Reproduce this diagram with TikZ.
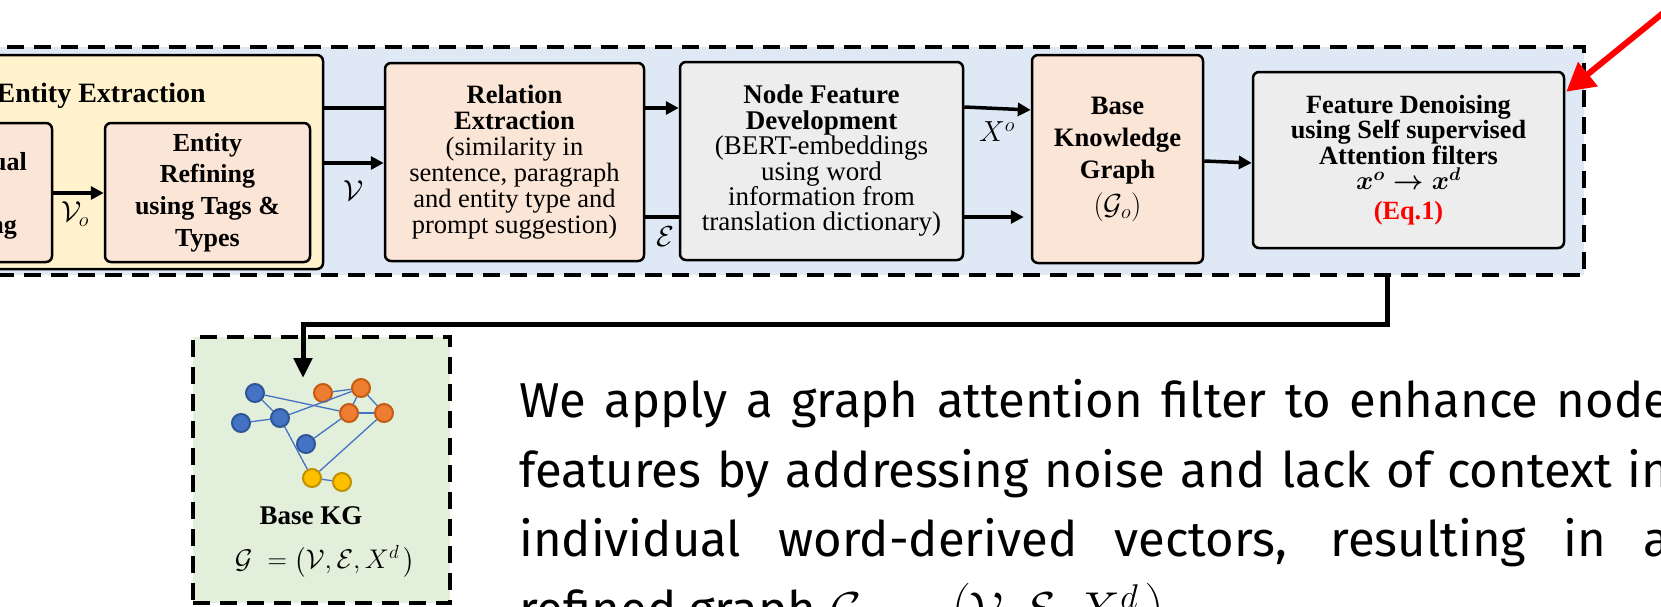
\RequirePackage{fix-cm}
\documentclass[tikz,border=0pt]{standalone}
\usepackage{fontspec}
\usepackage{amsmath}
\setmainfont{Liberation Serif}
\newfontfamily\parafont{Fira Sans}
\usetikzlibrary{arrows.meta}
\definecolor{bgblue}{HTML}{DEE9F5}
\definecolor{yel}{HTML}{FFF2CC}
\definecolor{peach}{HTML}{FBE5D6}
\definecolor{greybox}{HTML}{EDEDED}
\definecolor{greenbg}{HTML}{E2EFDA}
\definecolor{nblue}{HTML}{4472C4}
\definecolor{nblueb}{HTML}{2F5597}
\definecolor{norange}{HTML}{ED7D31}
\definecolor{norangeb}{HTML}{C55A11}
\definecolor{nyellow}{HTML}{FFC000}
\definecolor{nyellowb}{HTML}{BF9000}
\definecolor{redarrow}{HTML}{FF0000}
\begin{document}
\begin{tikzpicture}[x=1pt,y=-1pt,
  box/.style={draw=black, line width=2.5pt, rounded corners=6pt, inner sep=0pt, align=center},
  conn/.style={line width=3.5pt},
  arr/.style={conn, -{Triangle[length=13pt,width=13pt]}},
  dashbox/.style={draw=black, line width=4pt, dash pattern=on 17pt off 10pt, inner sep=0pt},
  lbl/.style={font=\fontsize{29}{32}\selectfont, inner sep=0pt},
  gedge/.style={draw=nblue, line width=1.3pt},
  gn/.style={circle, line width=2pt, minimum size=18pt, inner sep=0pt},
  bn/.style={gn, fill=nblue, draw=nblueb},
  on/.style={gn, fill=norange, draw=norangeb},
  yn/.style={gn, fill=nyellow, draw=nyellowb},
  para/.style={anchor=base west, inner sep=0pt, font=\parafont\fontsize{49}{69}\selectfont}
]
\useasboundingbox (0,0) rectangle (1661,606);
\clip (0,0) rectangle (1661,606);

% outer dashed region
\node[dashbox, fill=bgblue, minimum width=1614pt, minimum height=228pt] (outer) at (777,161) {};

% entity extraction
\node[box, fill=yel, minimum width=353pt, minimum height=214pt] (yel) at (146.5,162) {};
\node[anchor=base east, inner sep=0pt, font=\bfseries\fontsize{28}{30}\selectfont] (eetitle) at (206,102) {Entity Extraction};
\node[box, fill=peach, minimum width=82pt, minimum height=139pt] (cut) at (11,192.5) {};
\node[anchor=base east, inner sep=0pt, font=\bfseries\fontsize{26}{30}\selectfont] (cut1) at (27,170) {ual};
\node[anchor=base east, inner sep=0pt, font=\bfseries\fontsize{26}{30}\selectfont] (cut2) at (17,233) {ng};
\node[box, font=\bfseries\fontsize{26}{31.7}\selectfont, fill=peach, minimum width=205pt, minimum height=139pt] (ref) at (207.5,192.5)
  {Entity\\Refining\\using Tags \&\\Types};

% relation extraction
\node[box, font=\fontsize{26.5}{26}\selectfont, fill=peach, minimum width=259pt, minimum height=198pt] (rel) at (514.5,162)
  {\textbf{Relation}\\\textbf{Extraction}\\(similarity in\\sentence, paragraph\\and entity type and\\prompt suggestion)};

% node feature development
\node[box, font=\fontsize{27}{25.4}\selectfont, fill=greybox, minimum width=283pt, minimum height=198pt] (nf) at (821.5,161)
  {\textbf{Node Feature}\\\textbf{Development}\\(BERT-embeddings\\using word\\information from\\translation dictionary)};

% base knowledge graph
\node[box, font=\bfseries\fontsize{26.6}{32}\selectfont, fill=peach, minimum width=171pt, minimum height=208pt] (bkg) at (1117.5,159)
  {Base\\Knowledge\\Graph\\[4pt]{\mdseries\fontsize{29}{32}\selectfont$(\mathcal{G}_{o})$}};

% feature denoising
\node[box, font=\bfseries\fontsize{26.3}{25.5}\selectfont, fill=greybox, minimum width=311pt, minimum height=176pt] (den) at (1408.5,160)
  {Feature Denoising\\using Self supervised\\Attention filters\\$\boldsymbol{x^{o}\rightarrow x^{d}}$\\[4pt]\textcolor{red}{(Eq.1)}};

% connectors
\draw[arr] ([yshift=-0.5pt]cut.east) -- ([yshift=-0.5pt]ref.west);
\node[lbl] (lvo) at (75,214) {$\mathcal{V}_{o}$};
\draw[conn] ([yshift=54pt]yel.east) -- ([yshift=54pt]rel.west);
\draw[arr] ([yshift=-1pt]yel.east) -- ([yshift=-1pt]rel.west);
\node[lbl] (lv) at (354,191) {$\mathcal{V}$};
\draw[arr] ([yshift=54pt]rel.east) -- ([yshift=53pt]nf.west);
\draw[conn] ([yshift=-55pt]rel.east) -- ([yshift=-56pt]nf.west);
\node[lbl] (le) at (665,237) {$\mathcal{E}$};
\draw[arr] ([yshift=54pt]nf.east) -- ([yshift=49pt]bkg.west);
\draw[arr] ([yshift=-56pt]nf.east) -- ([yshift=-58pt,xshift=-7pt]bkg.west);
\node[lbl] (lx) at (997,132) {$X^{o}$};
\draw[arr] ([yshift=-2pt]bkg.east) -- ([yshift=-3pt]den.west);

% red arrow
\coordinate (redstart) at (1700,-17);
\draw[draw=redarrow, line width=6pt, -{Triangle[length=28pt,width=30pt]}] (redstart) -- ([yshift=-21pt,xshift=1pt]den.north east);

% base KG box
\node[dashbox, fill=greenbg, minimum width=257pt, minimum height=266pt] (kg) at (321.5,470) {};
\coordinate (kgin) at (303,378);
\draw[line width=5pt, -{Triangle[length=20pt,width=18pt]}] ([xshift=610pt]outer.south) -- ++(0,47) -| (kgin);

% graph
\node[bn] (b1) at (255,393) {};
\node[bn] (b2) at (241,423) {};
\node[bn] (b3) at (280,418) {};
\node[bn] (b4) at (306,444) {};
\node[on] (o1) at (323,393) {};
\node[on] (o2) at (361,388) {};
\node[on] (o3) at (349,413) {};
\node[on] (o4) at (384,413) {};
\node[yn] (y1) at (312,478) {};
\node[yn] (y2) at (342,482) {};
\draw[gedge] (b1) -- (b3);
\draw[gedge] (b1) -- (o3);
\draw[gedge] (b2) -- (b3);
\draw[gedge] (b3) -- (o2);
\draw[gedge] (b3) -- (y1);
\draw[gedge] (b4) -- (o3);
\draw[gedge] (o1) -- (o2);
\draw[gedge] (o2) -- (o3);
\draw[gedge] (o2) -- (o4);
\draw[gedge] (o3) -- (o4);
\draw[gedge] (o4) -- (y1);
\draw[gedge] (y1) -- (y2);

\node[inner sep=0pt, font=\bfseries\fontsize{27}{30}\selectfont] (kgt) at (311,516) {Base KG};
\node[inner sep=0pt, font=\fontsize{27}{30}\selectfont] (kgf) at (325,562) {$\mathcal{G}\;=\bigl(\mathcal{V},\mathcal{E},X^{d}\,\bigr)$};

% paragraph
\node[para] (p1) at (519,417) {\makebox[1151pt][s]{We apply a graph attention filter to enhance node}};
\node[para] (p2) at (519,487) {\makebox[1151pt][s]{features by addressing noise and lack of context in}};
\node[para] (p3) at (519,556) {\makebox[1151pt][s]{individual word-derived vectors, resulting in a}};
\node[para] (p4) at (519,626) {refined graph $\mathcal{G}\;=\;\bigl(\mathcal{V},\mathcal{E},X^{d}\,\bigr)$};
\end{tikzpicture}
\end{document}
